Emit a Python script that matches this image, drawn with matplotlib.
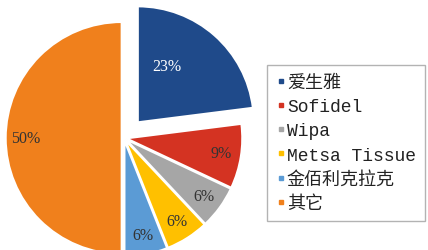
import numpy as np
import matplotlib
matplotlib.use("Agg")
import matplotlib.pyplot as plt
from matplotlib.lines import Line2D

labels = ["爱生雅", "Sofidel", "Wipa", "Metsa Tissue", "金佰利克拉克", "其它"]
values = [23, 9, 6, 6, 6, 50]
colors = ["#1F4A8A", "#D43322", "#A6A6A6", "#FFC000", "#5B9BD5", "#F0801C"]
explode = [0.18, 0.02, 0.02, 0.02, 0.02, 0.02]
pct_colors = ["white", "#333333", "#333333", "#333333", "#333333", "#333333"]

W, H = 428, 251
fig = plt.figure(figsize=(W / 100, H / 100), dpi=100)
ax = fig.add_axes([0, 0, 1, 1])

wedges, texts, autotexts = ax.pie(
    values, colors=colors, explode=explode, startangle=90, counterclock=False,
    autopct="%d%%", pctdistance=0.83, radius=1.0,
    wedgeprops=dict(edgecolor="white", linewidth=1.5),
    textprops=dict(family="Liberation Serif", fontsize=11.5),
)
for t, c in zip(autotexts, pct_colors):
    t.set_color(c)

# move the big-slice label closer to the wedge's inner area
w0 = wedges[0]
ang = np.deg2rad((w0.theta1 + w0.theta2) / 2 + 14)
cx, cy = w0.center
autotexts[0].set_position((cx + 0.55 * np.cos(ang), cy + 0.55 * np.sin(ang)))

R = 116.0
cxp, cyp = 124.0, 139.0
ax.set_xlim(-cxp / R, (W - cxp) / R)
ax.set_ylim(-(H - cyp) / R, cyp / R)
ax.set_aspect("equal", adjustable="box")
ax.axis("off")

handles = [Line2D([0], [0], marker="s", linestyle="none", markersize=3,
                  markerfacecolor=c, markeredgecolor=c) for c in colors]
leg = fig.legend(handles, labels, loc="upper left",
                 bbox_to_anchor=(267 / W, 1 - 66 / H), borderaxespad=0,
                 frameon=True, fancybox=False, handlelength=0.5,
                 handletextpad=0.1, labelspacing=0.4, borderpad=0.5,
                 prop=dict(family=["Liberation Mono", "Noto Sans CJK SC"], size=13))
leg.get_frame().set_edgecolor("#A0A0A0")
leg.get_frame().set_linewidth(1.0)
for t in leg.get_texts():
    t.set_color("#222222")

fig.savefig("out.png", dpi=100)
